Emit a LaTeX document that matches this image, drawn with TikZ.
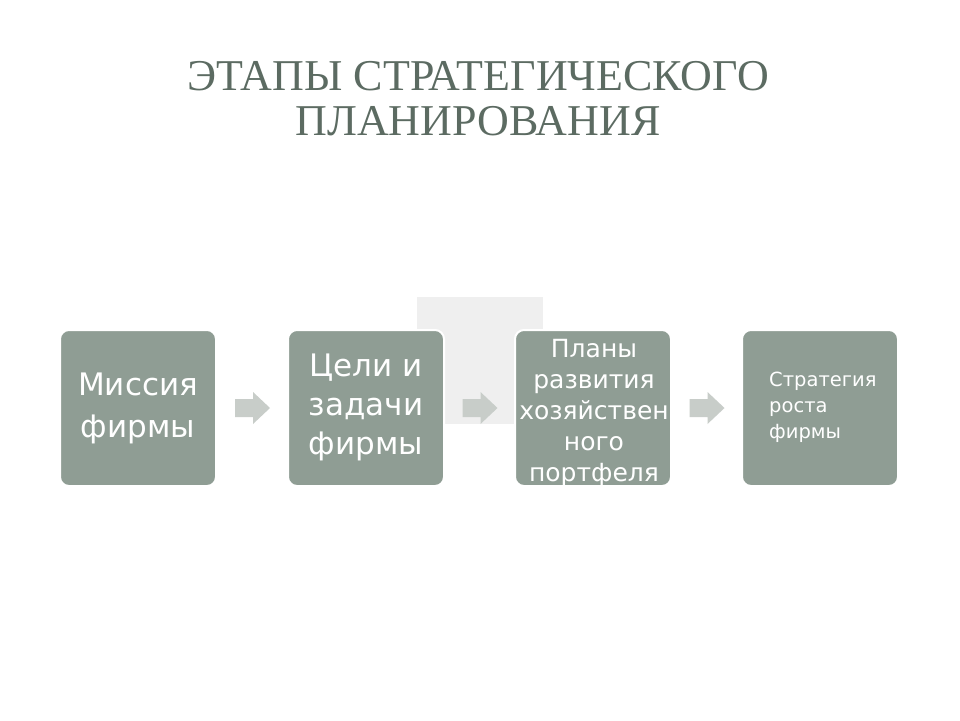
\documentclass[tikz,border=0pt]{standalone}
\usepackage{fontspec}
\setmainfont{Liberation Serif}
\newfontfamily\boxfont{DejaVu Sans}
\definecolor{boxfill}{RGB}{143,157,148}
\definecolor{titlecol}{RGB}{92,107,98}
\definecolor{arrowcol}{RGB}{200,205,201}
\definecolor{backsq}{RGB}{239,239,239}
\begin{document}
\begin{tikzpicture}[x=1pt,y=-1pt,
  stage/.style={draw=white,line width=2pt,fill=boxfill,rounded corners=9pt,minimum width=156pt,minimum height=156pt,inner sep=0pt,text=white},
  flowarrow/.style={fill=arrowcol,draw=none}]
\useasboundingbox (0,0) rectangle (960,720);
\fill[white] (0,0) rectangle (960,720);
\node[font=\fontsize{44}{45}\selectfont,text=titlecol,align=center] (title) at (478,99) {ЭТАПЫ СТРАТЕГИЧЕСКОГО\\ПЛАНИРОВАНИЯ};
\fill[backsq] (417,297) rectangle (543,424);
\node[stage] (s1) at (138,408) {};
\node[stage] (s2) at (366,408) {};
\node[stage] (s3) at (593,408) {};
\node[stage] (s4) at (820,408) {};
\node[font=\boxfont\fontsize{31}{42}\selectfont,text=white,align=center] (t1) at (s1.center) {Миссия\\фирмы};
\node[font=\boxfont\fontsize{31}{39}\selectfont,text=white,align=center] (t2) at (366,407) {Цели и\\задачи\\фирмы};
\node[font=\boxfont\fontsize{25}{31}\selectfont,text=white,align=center] (t3) at (594,413) {Планы\\развития\\хозяйствен\\ного\\портфеля};
\node[font=\boxfont\fontsize{19.5}{26}\selectfont,text=white,align=left,anchor=north west,inner sep=0pt] (t4) at (769,372) {Стратегия\\роста\\фирмы};
\foreach \a/\b in {s1/s2,s2/s3,s3/s4}{
  \path (\a.east) -- (\b.west) coordinate[pos=0.5] (m);
  \fill[flowarrow] ([xshift=-17pt,yshift=-9pt]m) -- ([xshift=1pt,yshift=-9pt]m) -- ([xshift=1pt,yshift=-16pt]m) -- ([xshift=18pt]m) -- ([xshift=1pt,yshift=16pt]m) -- ([xshift=1pt,yshift=9pt]m) -- ([xshift=-17pt,yshift=9pt]m) -- cycle;
}
\end{tikzpicture}
\end{document}
